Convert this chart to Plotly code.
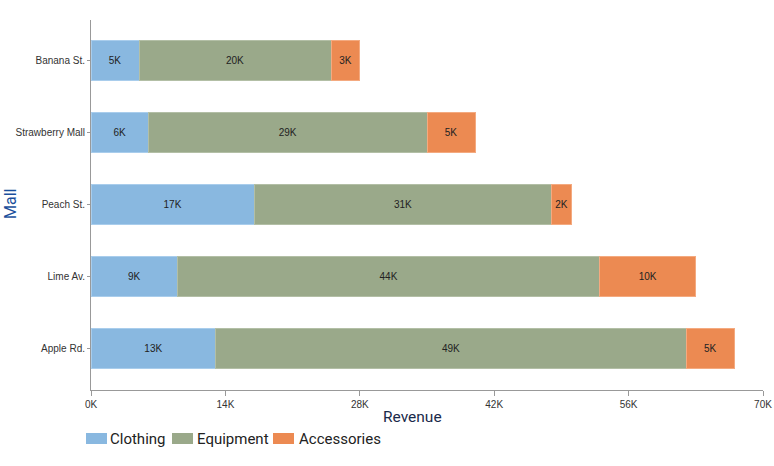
import plotly.graph_objects as go

malls = ["Apple Rd.", "Lime Av.", "Peach St.", "Strawberry Mall", "Banana St."]
clothing = [13, 9, 17, 6, 5]
equipment = [49, 44, 31, 29, 20]
accessories = [5, 10, 2, 5, 3]
tick_vals = [0, 14, 28, 42, 56, 70]
tick_text = ["0K", "14K", "28K", "42K", "56K", "70K"]

series = [
    ("Clothing", clothing, "#89b8e0", "#a9cdec"),
    ("Equipment", equipment, "#9aa98a", "#b3bfa6"),
    ("Accessories", accessories, "#ec8a52", "#f4aa80"),
]

W, H = 774, 466
L, R, T, B = 91, 11, 20, 76
PW, PH = W - L - R, H - T - B


def px(x):
    return (x - L) / PW


def py(y):
    return (H - B - y) / PH


fig = go.Figure()
for name, vals, col, edge in series:
    fig.add_trace(go.Bar(
        y=malls, x=vals, name=name, orientation="h",
        marker=dict(color=col, line=dict(color=edge, width=1)),
        text=[f"{v}K" for v in vals], textposition="inside",
        insidetextanchor="middle", textangle=0,
        textfont=dict(family="Liberation Sans, Arial", size=10, color="#222"),
        width=0.56, hoverinfo="skip", showlegend=False,
    ))

# manual legend (swatch + label) to match tight spacing
legend_items = [("Clothing", "#89b8e0", 86, 108), ("Equipment", "#9aa98a", 172, 195),
                ("Accessories", "#ec8a52", 273, 297)]
shapes = []
annotations = []
for label, col, sx, tx in legend_items:
    shapes.append(dict(type="rect", xref="paper", yref="paper",
                       x0=px(sx), x1=px(sx + 21), y0=py(444), y1=py(433),
                       fillcolor=col, line=dict(width=0)))
    annotations.append(dict(text=label, xref="paper", yref="paper", x=px(tx), y=py(439),
                            xanchor="left", yanchor="middle", showarrow=False,
                            font=dict(family="Roboto", size=15, color="#222")))

annotations.append(dict(text="Revenue", xref="paper", yref="paper", x=px(412), y=py(417),
                        xanchor="center", yanchor="middle", showarrow=False,
                        font=dict(family="Roboto", size=15.5, color="#1a2a4a")))
annotations.append(dict(text="Mall", xref="paper", yref="paper", x=px(10), y=py(204),
                        xanchor="center", yanchor="middle", showarrow=False, textangle=-90,
                        font=dict(family="Roboto", size=16, color="#1a4f9c")))

fig.update_layout(
    barmode="stack",
    width=W, height=H,
    margin=dict(l=L, r=R, t=T, b=B),
    plot_bgcolor="white", paper_bgcolor="white",
    font=dict(family="Roboto, Liberation Sans, Arial", color="#333"),
    showlegend=False,
    shapes=shapes,
    annotations=annotations,
    uniformtext=dict(minsize=8, mode="show"),
)
fig.update_xaxes(
    range=[0, 70], tickvals=tick_vals, ticktext=tick_text, automargin=False,
    showgrid=False, zeroline=False, showline=True, linecolor="#999", linewidth=1,
    ticks="outside", ticklen=5, tickcolor="#999",
    tickfont=dict(family="Liberation Sans, Arial", size=10, color="#333"),
)
fig.update_yaxes(
    range=[-0.58, 4.56], categoryorder="array", categoryarray=malls, automargin=False,
    showgrid=False, zeroline=False, showline=True, linecolor="#999", linewidth=1,
    ticks="outside", ticklen=3, tickcolor="#999",
    tickfont=dict(family="Liberation Sans, Arial", size=10, color="#333"),
)

fig.write_html("out.html")
